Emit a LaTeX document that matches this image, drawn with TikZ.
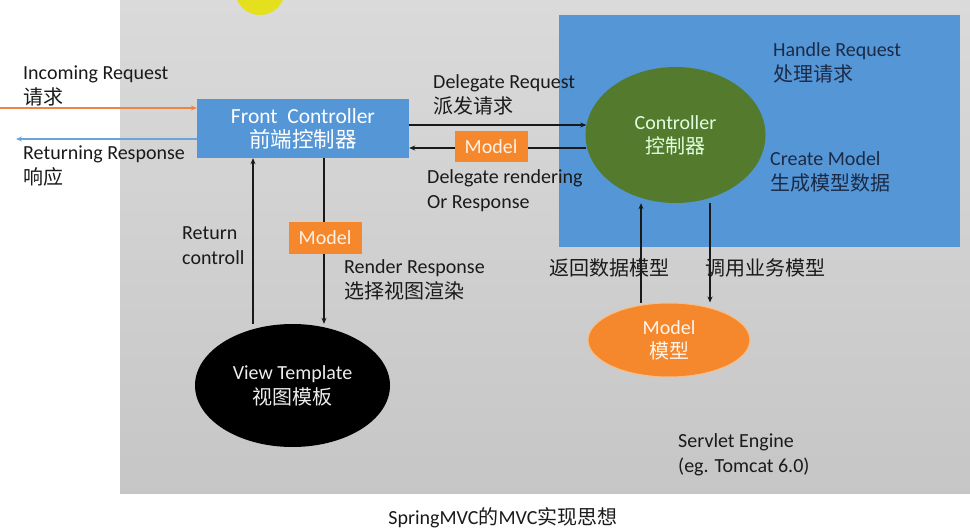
\documentclass[tikz,border=0pt]{standalone}
\usepackage{fontspec}
\setmainfont{Carlito}
\newfontfamily\cjk{Noto Sans CJK SC}
\usetikzlibrary{shapes.geometric,arrows.meta,positioning,calc}
\definecolor{engineTop}{HTML}{DADADA}
\definecolor{engineBottom}{HTML}{C6C6C6}
\definecolor{handlerBlue}{HTML}{5597D6}
\definecolor{ctrlGreen}{HTML}{537A2D}
\definecolor{modelOrange}{HTML}{F5872D}
\definecolor{modelRim}{HTML}{F8BE84}
\definecolor{sunYellow}{HTML}{E4E01E}
\definecolor{textDark}{HTML}{1A1A1A}
\definecolor{textNavy}{HTML}{1B2A47}
\definecolor{inOrange}{HTML}{EE8544}
\definecolor{outBlue}{HTML}{6CA4DA}

\begin{document}
\begin{tikzpicture}[x=1pt,y=-1pt,
    lbl/.style={font=\fontsize{20}{25}\selectfont, inner sep=0pt, align=left, anchor=west, text=textDark},
    navylbl/.style={lbl, text=textNavy},
    fcbox/.style={rectangle, fill=handlerBlue, minimum width=212pt, minimum height=59pt, inner sep=0pt, align=center, text=white, font=\fontsize{21.5}{24}\selectfont},
    ctrlnode/.style={ellipse, fill=ctrlGreen, minimum width=180pt, minimum height=136pt, inner sep=0pt, align=center, text=white!88!green, font=\fontsize{20}{24}\selectfont},
    mdlnode/.style={ellipse, fill=modelOrange, draw=modelRim, line width=1pt, minimum width=162pt, minimum height=74pt, inner sep=0pt, align=center, text=white!92!orange, font=\fontsize{20}{24}\selectfont},
    viewnode/.style={ellipse, fill=black, minimum width=195pt, minimum height=123pt, inner sep=0pt, align=center, text=white!93!black, font=\fontsize{20}{25}\selectfont},
    mdlbox/.style={rectangle, fill=modelOrange, minimum width=73pt, minimum height=31pt, inner sep=0pt, text=white!90!orange, font=\fontsize{20}{24}\selectfont},
    arr/.style={-{Stealth[length=6pt,width=5pt]}, line width=1.4pt, draw=black!90}
  ]
  \useasboundingbox (0,0) rectangle (970,532);
  % servlet engine area and the half hidden sun at the top
  \shade[top color=engineTop, bottom color=engineBottom] (120,0) rectangle (970,493);
  \fill[sunYellow] (260,-10) circle (25pt);
  \fill[handlerBlue] (559,15) rectangle (960,247);

  % main parts
  \node[fcbox] (fc) at (303,128.5) {Front\ \ Controller\\{\cjk 前端控制器}};
  \node[ctrlnode] (ctrl) at (675.5,135) {Controller\\{\cjk 控制器}};
  \node[mdlnode] (model) at (669,340) {Model\\{\cjk 模型}};
  \node[viewnode] (view) at (292.5,385.5) {View Template\\{\cjk 视图模板}};

  % request in, response out
  \coordinate (inL) at (0,108);
  \coordinate (outL) at (16,139);
  \draw[arr, draw=inOrange, line width=1.2pt] (inL) -- (inL -| fc.west);
  \draw[arr, draw=outBlue, line width=1.2pt] (fc.west |- outL) -- (outL);

  % front controller <-> controller
  \coordinate (dReq) at ($(ctrl.west)+(1,-10)$);
  \coordinate (dRen) at ($(ctrl.west)+(1,13)$);
  \draw[arr] (fc.east |- dReq) -- (dReq);
  \draw[arr] (dRen) -- (fc.east |- dRen);
  \node[mdlbox] (mdl1) at (491,147) {Model};

  % front controller <-> view
  \coordinate (xRet) at (253,0);
  \coordinate (xRen) at (324,0);
  \draw[arr] (view.north -| xRet) -- (fc.south -| xRet);
  \draw[arr] (fc.south -| xRen) -- (view.north -| xRen);
  \node[mdlbox] (mdl2) at (325,238) {Model};

  % controller <-> model
  \coordinate (xBack) at (641,0);
  \coordinate (xCall) at (710,0);
  \draw[arr] (model.north -| xBack) -- (ctrl.south -| xBack);
  \draw[arr] (ctrl.south -| xCall) -- (model.north -| xCall);

  % labels
  \node[lbl] (tIn) at (23,85.5) {Incoming Request\\{\cjk 请求}};
  \node[lbl] (tOut) at (23,165.5) {Returning Response\\{\cjk 响应}};
  \node[lbl] (tDReq) at (433,95) {Delegate Request\\{\cjk 派发请求}};
  \node[lbl] (tDRen) at (427,190.5) {Delegate rendering\\Or Response};
  \node[navylbl] (tHandle) at (773,62.5) {Handle Request\\{\cjk 处理请求}};
  \node[navylbl] (tCreate) at (770,171.5) {Create Model\\{\cjk 生成模型数据}};
  \node[lbl] (tRet) at (182,245.5) {Return\\controll};
  \node[lbl] (tRen) at (344,280) {Render Response\\{\cjk 选择视图渲染}};
  \node[lbl] (tBack) at (549,268) {\cjk 返回数据模型};
  \node[lbl] (tCall) at (705,268) {\cjk 调用业务模型};
  \node[lbl] (tEngine) at (678,455) {Servlet Engine\\(eg. Tomcat 6.0)};
  \node[lbl, anchor=center] (caption) at (503,518) {SpringMVC{\cjk 的}MVC{\cjk 实现思想}};
\end{tikzpicture}
\end{document}
